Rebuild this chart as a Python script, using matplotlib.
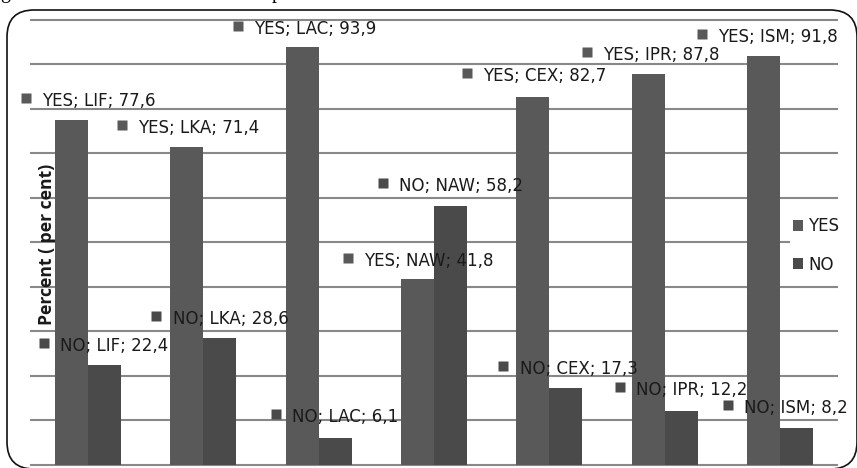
import matplotlib
matplotlib.use("Agg")
import matplotlib.pyplot as plt
import numpy as np
from matplotlib.patches import FancyBboxPatch, Patch
from matplotlib.transforms import ScaledTranslation, IdentityTransform

# share of answers per activity
categories = ["LIF", "LKA", "LAC", "NAW", "CEX", "IPR", "ISM"]
yes_values = [77.6, 71.4, 93.9, 41.8, 82.7, 87.8, 91.8]
no_values = [22.4, 28.6, 6.1, 58.2, 17.3, 12.2, 8.2]

# where each data label (its key square) sits, in data units
yes_label_pos = [(-0.535, 82.5), (0.297, 76.4), (1.302, 98.7), (2.255, 46.5),
                 (3.286, 88.1), (4.325, 92.8), (5.322, 96.9)]
no_label_pos = [(-0.379, 27.4), (0.592, 33.5), (1.631, 11.5), (2.558, 63.4),
                (3.598, 22.2), (4.611, 17.5), (5.547, 13.5)]

YES_COLOR = "#595959"
NO_COLOR = "#4a4a4a"
GRID_COLOR = "#888888"
TEXT_COLOR = "#1a1a1a"
FONT = ["DejaVu Sans"]

W, H = 857, 468
fig = plt.figure(figsize=(W / 100, H / 100), dpi=100)
fig.patch.set_facecolor("white")

# plot area: 0 at y=465 px, 100 at y=20 px
ax = fig.add_axes([30 / W, (H - 467.2) / H, 808 / W, 449.5 / H])
ax.set_xlim(-0.5, len(categories) - 0.5)
ax.set_ylim(-0.5, 100.5)

x = np.arange(len(categories))
bw = 0.2857
ax.bar(x - bw / 2, yes_values, bw, color=YES_COLOR, zorder=3, label="YES")
ax.bar(x + bw / 2, no_values, bw, color=NO_COLOR, zorder=3, label="NO")

ax.set_yticks(np.arange(0, 101, 10))
ax.yaxis.grid(True, color=GRID_COLOR, lw=1.5)
ax.set_axisbelow(True)
ax.tick_params(left=False, bottom=False, labelleft=False, labelbottom=False)
for s in ax.spines.values():
    s.set_visible(False)

# data labels with a legend-key square in front
text_shift = ScaledTranslation(0.165, -0.03, fig.dpi_scale_trans)

def put_label(pos, series, cat, val, color):
    px, py = pos
    ax.plot(px, py, marker="s", ms=7.4, color=color, mec="none",
            clip_on=False, zorder=5)
    ax.text(px, py, f"{series}; {cat}; {val:.1f}".replace(".", ","),
            transform=ax.transData + text_shift, ha="left", va="center",
            fontsize=12, family=FONT, color=TEXT_COLOR, zorder=6,
            clip_on=False)

for i, cat in enumerate(categories):
    put_label(yes_label_pos[i], "YES", cat, yes_values[i], YES_COLOR)
    put_label(no_label_pos[i], "NO", cat, no_values[i], NO_COLOR)

handles = [Patch(facecolor=YES_COLOR, label="YES"),
           Patch(facecolor=NO_COLOR, label="NO")]
leg = fig.legend(handles=handles, loc="upper left",
                 bbox_to_anchor=(790 / W, 1 - 215 / H),
                 frameon=True, facecolor="white", edgecolor="none",
                 framealpha=1, handlelength=0.65, handleheight=0.65,
                 handletextpad=0.3, labelspacing=1.2, borderpad=0.15,
                 borderaxespad=0, prop={"family": FONT, "size": 12})
for t in leg.get_texts():
    t.set_color(TEXT_COLOR)

fig.text(47 / W, 1 - 244 / H, "Percent ( per cent)", rotation=90,
         ha="center", va="center", fontsize=12.6, fontweight="bold",
         family=["Open Sans", "DejaVu Sans"], color=TEXT_COLOR)

# rounded frame around the chart
frame = FancyBboxPatch((7, -1), 850, 459,
                       boxstyle="round,pad=0,rounding_size=27",
                       transform=IdentityTransform(), fill=False,
                       edgecolor="#111111", lw=1.2)
fig.add_artist(frame)

# caption line above, mostly cut off
fig.text(0, 470, "g", transform=IdentityTransform(), ha="left",
         va="baseline", fontsize=14.5, family="Liberation Serif")
fig.text(272, 470, "p", transform=IdentityTransform(), ha="left",
         va="baseline", fontsize=14.5, family="Liberation Serif")

fig.savefig("out.png", dpi=100)
